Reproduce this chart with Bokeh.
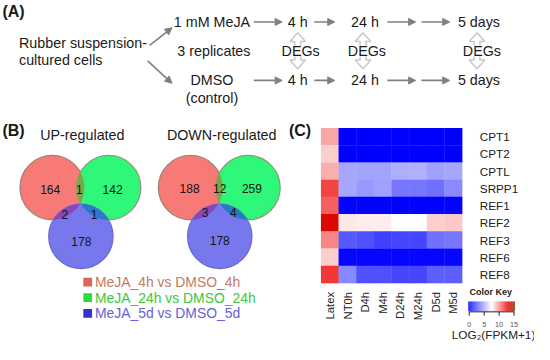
import numpy as np
from bokeh.plotting import figure
from bokeh.models import Range1d, ColumnDataSource, Arrow, NormalHead, LinearColorMapper
from bokeh.transform import transform
from bokeh.core.properties import value
from bokeh.embed import file_html
from bokeh.resources import INLINE

# ---------------- data ----------------
venn_titles = ["UP-regulated", "DOWN-regulated"]
# regions: 4h only, 4h&24h, 24h only, 4h&5d, 24h&5d, 5d only
up_counts = [164, 1, 142, 2, 1, 178]
down_counts = [188, 12, 259, 3, 4, 178]
legend_labels = ["MeJA_4h vs DMSO_4h", "MeJA_24h vs DMSO_24h", "MeJA_5d vs DMSO_5d"]

samples = ["Latex", "NT0h", "D4h", "M4h", "D24h", "M24h", "D5d", "M5d"]
genes = ["CPT1", "CPT2", "CPTL", "SRPP1", "REF1", "REF2", "REF3", "REF6", "REF8"]
CPT1 = [9.4, 0.0, 0.0, 0.0, 0.1, 0.0, 0.0, 0.0]
CPT2 = [8.5, 0.0, 0.0, 0.0, 0.0, 0.0, 0.0, 0.0]
CPTL = [9.2, 4.9, 4.8, 4.8, 5.1, 5.2, 4.7, 4.9]
SRPP1 = [11.5, 4.9, 4.5, 4.7, 3.5, 3.5, 3.3, 4.1]
REF1 = [10.9, 0.1, 0.1, 0.1, 0.1, 0.1, 0.1, 0.1]
REF2 = [13.4, 8.0, 7.9, 7.9, 7.5, 7.5, 8.5, 8.7]
REF3 = [10.1, 2.6, 2.35, 1.9, 2.1, 2.1, 3.3, 3.5]
REF6 = [8.6, 0.2, 0.2, 0.2, 0.2, 0.2, 0.2, 0.2]
REF8 = [11.8, 4.0, 2.35, 2.35, 2.1, 2.1, 2.8, 2.8]
heat_rows = [CPT1, CPT2, CPTL, SRPP1, REF1, REF2, REF3, REF6, REF8]
key_ticks = [0, 5, 10, 15]
key_title = "Color Key"
key_label = "LOG\u2082(FPKM+1)"

# ---------------- styles ----------------
FONT = "Liberation Sans"
TXT = "#1a1a1a"
GRAY = "#808080"


def make_palette():
    anchors = [(0.0, (0, 0, 255)), (7.5, (255, 255, 255)), (13.0, (238, 0, 0)), (15.0, (139, 37, 0))]
    vs = np.linspace(0, 15, 256)
    out = []
    for v in vs:
        for (a, ca), (b, cb) in zip(anchors[:-1], anchors[1:]):
            if a <= v <= b:
                t = (v - a) / (b - a)
                c = [int(round(ca[k] + t * (cb[k] - ca[k]))) for k in range(3)]
                out.append("#%02x%02x%02x" % tuple(c))
                break
    return out


palette = make_palette()
mapper = LinearColorMapper(palette=palette, low=0, high=15)

# canvas in reference-pixel coordinates
p = figure(width=534, height=344, x_range=Range1d(3, 551), y_range=Range1d(358, 5),
           x_axis_type=None, y_axis_type=None, toolbar_location=None,
           output_backend="svg", min_border=0, outline_line_color=None)
p.min_border_left = p.min_border_right = p.min_border_top = p.min_border_bottom = 0
p.background_fill_color = "white"
p.border_fill_color = "white"


def txt(x, y, t, size, align="center", color=TXT, bold=False, **kw):
    p.text(x=x, y=y, text=t, text_font=value(FONT), text_font_size=size,
           text_align=align, text_baseline="middle", text_color=color,
           text_font_style="bold" if bold else "normal", **kw)


# ---------------- panel A ----------------
txt([5], [16], ["(A)"], "16px", align="left", bold=True)
FA = "14.3px"
txt([220], [27], ["1 mM MeJA"], FA)
txt([22, 22], [49, 66], ["Rubber suspension-", "cultured cells"], FA, align="left")
txt([222], [57], ["3 replicates"], FA)
txt([220, 220], [87, 105], ["DMSO", "(control)"], FA)
time_x = [308, 377, 494]
time_lbl = ["4 h", "24 h", "5 days"]
txt(time_x, [27] * 3, time_lbl, FA)
txt(time_x, [87] * 3, time_lbl, FA)

# hollow double arrows behind DEGs
deg_cx = [308, 375, 492]
xs, ys = [], []
for cx in deg_cx:
    xs.append([cx, cx + 8, cx + 3, cx + 3, cx + 8, cx, cx - 8, cx - 3, cx - 3, cx - 8])
    ys.append([38, 47, 47, 66, 66, 75, 66, 66, 47, 47])
p.patches(xs, ys, fill_color="white", line_color="#c8c8c8", line_width=1.5)
p.rect(x=[311, 379, 497], y=[57] * 3, width=38, height=11, fill_color="white", line_color=None)
txt([311, 379, 497], [57] * 3, ["DEGs"] * 3, FA)

arr_x0 = [156, 154, 263, 325, 400, 435, 263, 325, 400, 435]
arr_y0 = [51, 67, 27, 27, 27, 27, 87, 87, 87, 87]
arr_x1 = [179, 179, 292, 346, 429, 464, 292, 346, 429, 464]
arr_y1 = [33, 90, 27, 27, 27, 27, 87, 87, 87, 87]
asrc = ColumnDataSource(dict(x0=arr_x0, y0=arr_y0, x1=arr_x1, y1=arr_y1))
p.add_layout(Arrow(end=NormalHead(size=7, fill_color=GRAY, line_color=GRAY, line_width=1),
                   x_start="x0", y_start="y0", x_end="x1", y_end="y1", source=asrc,
                   line_color=GRAY, line_width=1.6))

# ---------------- panel B ----------------
txt([5], [138], ["(B)"], "16px", align="left", bold=True)
txt([87, 230], [143, 143], venn_titles, "14.3px")

R = 33
C_RED, C_GRN, C_BLU = "#f87a76", "#2ef77a", "#7878ee"


def arc_pts(c, n=360):
    t = np.linspace(0, 2 * np.pi, n, endpoint=False)
    return np.column_stack([c[0] + R * np.cos(t), c[1] + R * np.sin(t)])


def region(own):
    pts = []
    for i, c in enumerate(own):
        a = arc_pts(c)
        ok = np.ones(len(a), bool)
        for j, o in enumerate(own):
            if j != i:
                ok &= np.hypot(a[:, 0] - o[0], a[:, 1] - o[1]) <= R
        pts.append(a[ok])
    pts = np.vstack(pts)
    m = pts.mean(axis=0)
    order = np.argsort(np.arctan2(pts[:, 1] - m[1], pts[:, 0] - m[0]))
    pts = pts[order]
    return list(pts[:, 0]), list(pts[:, 1])


def venn(cr, cg, cb, counts, pos):
    for c, col, lc in [(cr, C_RED, "#a08474"), (cg, C_GRN, "#8f9a78"), (cb, C_BLU, "#6a6ad0")]:
        p.circle(x=[c[0]], y=[c[1]], radius=R, fill_color=col, line_color=lc, line_width=1.3)
    lx, ly = [], []
    cols = ["#7fa646", "#8a46bc", "#2a78c8", "#5a6c98"]
    for grp in [(cr, cg), (cr, cb), (cg, cb), (cr, cg, cb)]:
        a, b = region(list(grp))
        lx.append(a)
        ly.append(b)
    p.patches(lx, ly, fill_color=cols, line_color=None)
    txt([q[0] for q in pos], [q[1] for q in pos], [str(v) for v in counts], "12px", color="#141414")


venn((56, 197), (114, 197), (85.5, 247), up_counts,
     [(54, 199), (84, 199), (118, 199), (69, 225), (99, 225), (86, 252)])
venn((198, 197), (257, 197), (228, 247), down_counts,
     [(197, 198), (228, 198), (261, 198), (213, 223), (242, 223), (228, 251)])

leg_y = [294, 310, 326]
p.rect(x=[92.5] * 3, y=leg_y, width=9, height=9, fill_color=["#dc6458", "#28dc3c", "#3434cc"], line_color=None)
p.text(x=[100] * 3, y=leg_y, text=legend_labels, text_font=value(FONT), text_font_size="13.9px",
       text_align="left", text_baseline="middle", text_color=["#c47a64", "#3cc83c", "#6262dc"])

# ---------------- panel C ----------------
txt([299], [138], ["(C)"], "16px", align="left", bold=True)
X0, CW = 332.0, 18.1
Y0, RH = 136.0, 17.67
p.extra_x_ranges["hx"] = Range1d((3 - X0 - 0.5 * CW) / CW, (551 - X0 - 0.5 * CW) / CW)
p.extra_y_ranges["hy"] = Range1d((358 - Y0 - 0.5 * RH) / RH, (5 - Y0 - 0.5 * RH) / RH)
hx, hy, hv = [], [], []
for j, row in enumerate(heat_rows):
    for i, v in enumerate(row):
        hx.append(i)
        hy.append(j)
        hv.append(v)
hsrc = ColumnDataSource(dict(x=hx, y=hy, v=hv))
p.rect(x="x", y="y", width=1.02, height=1.02, source=hsrc, x_range_name="hx", y_range_name="hy",
       fill_color=transform("v", mapper), line_color=None)
# gene labels (right)
p.text(x=[8.5] * len(genes), y=list(range(len(genes))), text=genes, x_range_name="hx", y_range_name="hy",
       text_font=value(FONT), text_font_size="11.7px", text_align="left", text_baseline="middle",
       text_color="#202020")
# sample labels (below, rotated)
p.text(x=list(range(len(samples))), y=[304] * len(samples), text=samples, x_range_name="hx",
       text_font=value(FONT), text_font_size="11.3px", text_align="right", text_baseline="middle",
       angle=np.pi / 2, text_color="#202020")

# color key
KX0, KW = 484.0, 46.0 / 15.0
p.extra_x_ranges["kx"] = Range1d((3 - KX0) / KW, (551 - KX0) / KW)
kv = np.linspace(-0.3, 15.3, 79)
ksrc = ColumnDataSource(dict(l=kv[:-1], r=kv[1:] + 0.02, m=np.clip((kv[:-1] + kv[1:]) / 2, 0, 15)))
p.quad(left="l", right="r", bottom=324, top=314, source=ksrc, x_range_name="kx",
       fill_color=transform("m", mapper), line_color=None)
p.segment(x0=[0], y0=[324.5], x1=[15], y1=[324.5], x_range_name="kx", line_color="#222222", line_width=1)
p.segment(x0=key_ticks, y0=[324.5] * 4, x1=key_ticks, y1=[328.5] * 4, x_range_name="kx",
          line_color="#222222", line_width=1)
p.text(x=key_ticks, y=[337] * 4, text=[str(t) for t in key_ticks], x_range_name="kx",
       text_font=value(FONT), text_font_size="7.2px", text_align="center", text_baseline="middle",
       text_color="#555555")
txt([506], [304], [key_title], "9px", bold=True, color="#222222")
txt([509], [348], [key_label], "11.8px", color="#222222")

open("out.html", "w").write(file_html(p, INLINE))
